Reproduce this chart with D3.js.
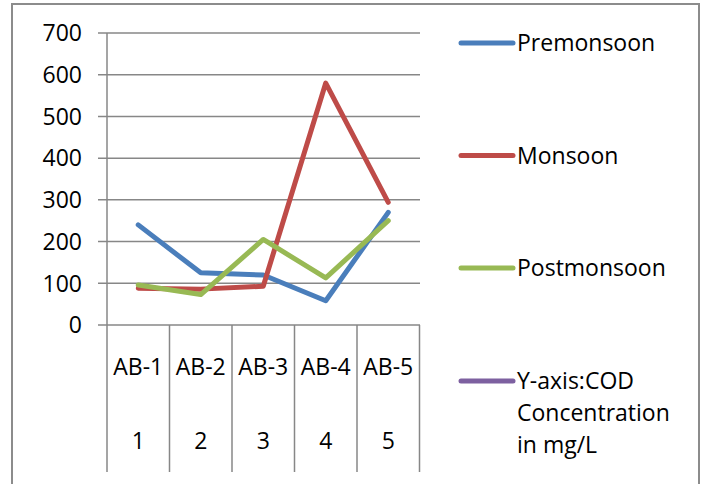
<!DOCTYPE html>
<html>
<head>
<meta charset="utf-8">
<script src="https://cdn.jsdelivr.net/npm/d3@7"></script>
<style>
  body { margin: 0; background: #fff; }
  svg { display: block; font-family: "Open Sans", "Noto Sans", sans-serif; }
  .grid line, .sep line { stroke: #878787; stroke-width: 1.5; }
  .tick-label { font-size: 23px; fill: #000; }
  .series { fill: none; stroke-width: 5; stroke-linejoin: round; stroke-linecap: round; }
</style>
</head>
<body>
<svg width="706" height="484"></svg>
<script>
// chart data
var stations = ["AB-1", "AB-2", "AB-3", "AB-4", "AB-5"];
var stationNums = ["1", "2", "3", "4", "5"];
var premonsoon = [240, 125, 120, 58, 270];
var monsoon = [88, 86, 93, 580, 294];
var postmonsoon = [96, 73, 205, 113, 250];
var yTicks = [0, 100, 200, 300, 400, 500, 600, 700];
var legendNames = ["Premonsoon", "Monsoon", "Postmonsoon"];
var noteLines = ["Y-axis:COD", "Concentration", "in mg/L"];

var colors = ["#4a7ebb", "#be4b48", "#98b954", "#7d60a0"];

var svg = d3.select("svg");

// outer frame (open at the bottom, as in the source)
svg.append("path")
  .attr("d", "M12,484V4H699V484")
  .attr("fill", "none")
  .attr("stroke", "#8c8c8c")
  .attr("stroke-width", 2);

var x = d3.scaleBand().domain(stations).range([107, 419.5]);
var y = d3.scaleLinear().domain([0, 700]).range([325, 33]);

// horizontal gridlines + outward ticks
var grid = svg.append("g").attr("class", "grid");
grid.selectAll("line").data(yTicks).join("line")
  .attr("x1", 98).attr("x2", 420)
  .attr("y1", d => y(d)).attr("y2", d => y(d));

grid.selectAll("text").data(yTicks).join("text")
  .attr("class", "tick-label")
  .attr("x", 82)
  .attr("y", d => y(d))
  .attr("dy", "0.36em")
  .attr("text-anchor", "end")
  .text(d => d);

// vertical axis line and category separators
var bounds = stations.map(d => x(d)).concat([x.range()[1]]);
var sep = svg.append("g").attr("class", "sep");
sep.append("line")
  .attr("x1", x.range()[0]).attr("x2", x.range()[0])
  .attr("y1", y(700)).attr("y2", 472);
sep.selectAll("line.b").data(bounds.slice(1)).join("line")
  .attr("class", "b")
  .attr("x1", d => d).attr("x2", d => d)
  .attr("y1", y(0)).attr("y2", 472);

// two-level category labels
svg.append("g").selectAll("text").data(stations).join("text")
  .attr("class", "tick-label")
  .attr("x", d => x(d) + x.bandwidth() / 2)
  .attr("y", 375)
  .attr("text-anchor", "middle")
  .text(d => d);

svg.append("g").selectAll("text").data(stationNums).join("text")
  .attr("class", "tick-label")
  .attr("x", (d, i) => x(stations[i]) + x.bandwidth() / 2)
  .attr("y", 449)
  .attr("text-anchor", "middle")
  .text(d => d);

// series lines
var line = d3.line()
  .x((d, i) => x(stations[i]) + x.bandwidth() / 2)
  .y(d => y(d));

[premonsoon, monsoon, postmonsoon].forEach(function(vals, i) {
  svg.append("path")
    .datum(vals)
    .attr("class", "series")
    .attr("stroke", colors[i])
    .attr("d", line);
});

// legend
var legendY = [43, 155.5, 268, 381];
var lg = svg.append("g");
legendY.forEach(function(ly, i) {
  lg.append("line")
    .attr("x1", 461).attr("x2", 513)
    .attr("y1", ly).attr("y2", ly)
    .attr("stroke", colors[i])
    .attr("stroke-width", 5)
    .attr("stroke-linecap", "round");
});
legendNames.forEach(function(name, i) {
  lg.append("text")
    .attr("class", "tick-label")
    .attr("x", 517)
    .attr("y", legendY[i])
    .attr("dy", "0.36em")
    .text(name);
});
noteLines.forEach(function(t, i) {
  lg.append("text")
    .attr("class", "tick-label")
    .attr("x", 517)
    .attr("y", 389 + i * 32)
    .text(t);
});
</script>
</body>
</html>
